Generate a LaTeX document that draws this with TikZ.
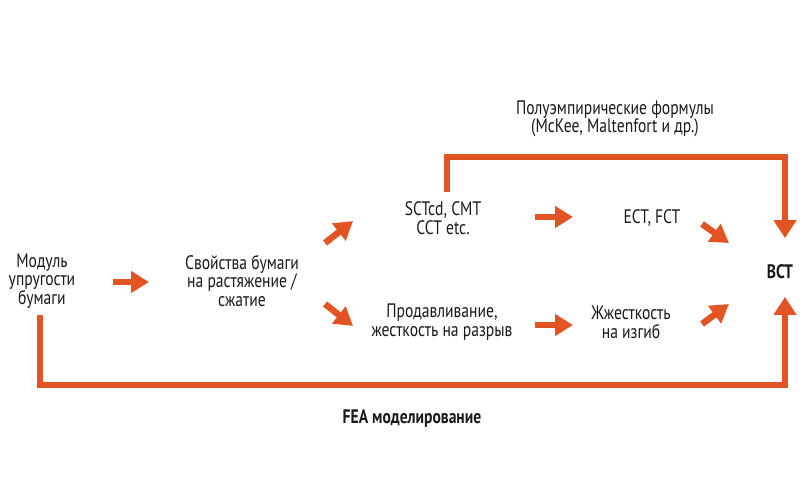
\documentclass[tikz,border=0pt]{standalone}
\usepackage{fontspec}
\setmainfont[FakeStretch=0.8]{PT Sans}
\usetikzlibrary{arrows.meta}
\definecolor{arr}{RGB}{226,84,36}
\tikzset{
  lbl/.style={align=center, font=\fontsize{19.5}{18.6}\selectfont, text=black!90, inner sep=0pt},
  blbl/.style={lbl, font=\fontsize{19.5}{18.6}\selectfont\bfseries},
  fat/.style={draw=arr, line width=6.5pt, -{Triangle[length=18pt,width=21pt]}},
  conn/.style={draw=arr, line width=6pt, line join=miter, -{Triangle[length=18pt,width=22pt]}, shorten >=-0.1pt},
}
\begin{document}
\begin{tikzpicture}[x=1pt,y=-1pt]
\useasboundingbox[fill=white] (0,0) rectangle (805,499);
\node[lbl] (mod) at (42,281) {Модуль\\упругости\\бумаги};
\node[lbl] (prop) at (242,281) {Свойства бумаги\\на растяжение /\\сжатие};
\node[lbl] (sct) at (443,218) {SCTcd, CMT\\CCT etc.};
\node[lbl] (ect) at (652,218) {ECT, FCT};
\node[lbl] (prod) at (442,322) {Продавливание,\\жесткость на разрыв};
\node[lbl] (zh) at (631,322) {Жжесткость\\на изгиб};
\node[blbl] (bct) at (780,272) {BCT};
\node[lbl] (semi) at (615,119) {Полуэмпирические формулы\\(McKee, Maltenfort и др.)};
\node[blbl] (fea) at (412,419) {FEA моделирование};
% small arrow endpoints
\coordinate (a1s) at (113,282); \coordinate (a1e) at (149,282);
\coordinate (a2s) at (325,243); \coordinate (a2e) at (353,221);
\coordinate (a3s) at (325,304); \coordinate (a3e) at (353,326);
\coordinate (a4s) at (535,217); \coordinate (a4e) at (573,217);
\coordinate (a5s) at (535,325); \coordinate (a5e) at (573,325);
\coordinate (a6s) at (702,224); \coordinate (a6e) at (729,243);
\coordinate (a7s) at (702,324); \coordinate (a7e) at (729,304);
\draw[fat] (a1s) -- (a1e);
\draw[fat] (a2s) -- (a2e);
\draw[fat] (a3s) -- (a3e);
\draw[fat] (a4s) -- (a4e);
\draw[fat] (a5s) -- (a5e);
\draw[fat] (a6s) -- (a6e);
\draw[fat] (a7s) -- (a7e);
% long connectors
\coordinate (topstart) at (447,192);
\coordinate (bcttop) at (785,238);
\coordinate (botstart) at (40,315);
\coordinate (bctbot) at (785,297);
\draw[conn] (topstart) -- (447,156.5) -- (785,156.5) -- (bcttop);
\draw[conn] (botstart) -- (40,384.5) -- (785,384.5) -- (bctbot);
\end{tikzpicture}
\end{document}
